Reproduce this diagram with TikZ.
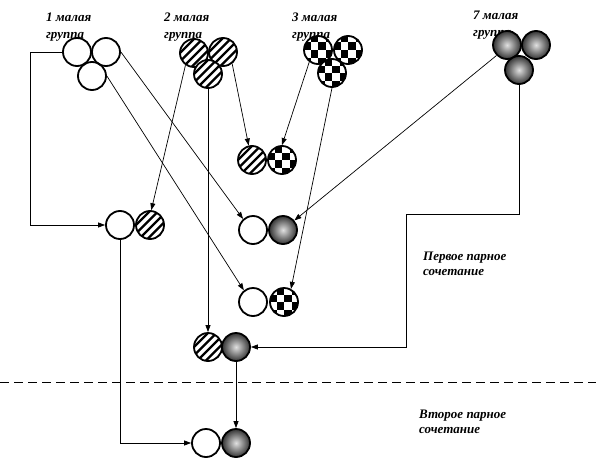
\documentclass[tikz,border=0pt]{standalone}
\usepackage{fontspec}
\setmainfont{Liberation Serif}
\usetikzlibrary{arrows.meta}
\tikzset{
  base/.style={circle, minimum size=28pt, inner sep=0pt, draw=black, line width=1.8pt},
  wcirc/.style={base},
  hcirc/.style={base, fill=white, path picture={
     \foreach \i in {-34,-25.5,...,34} \draw[black, line width=2.3pt] ([xshift=\i pt, yshift=-20pt]path picture bounding box.center) -- ++(40pt,40pt);}},
  ccirc/.style={base, fill=white, path picture={
     \foreach \i in {-2,...,1}{\foreach \j in {-2,...,1}{
       \pgfmathtruncatemacro\kk{mod(\i+\j+4,2)}
       \ifnum\kk=0 \fill[black] ([xshift={\i*7.5pt}, yshift={\j*7.5pt}]path picture bounding box.center) rectangle ++(7.5pt,7.5pt);\fi}}}},
  bcirc/.style={base, shading=radial, inner color=black!12, outer color=black!80},
  lbl/.style={inner sep=0pt, anchor=base west, font=\fontsize{13}{15}\selectfont\bfseries\itshape},
  conn/.style={line width=0.7pt},
  arr/.style={conn, -{Triangle[length=7pt,width=5pt]}}
}
\begin{document}
\begin{tikzpicture}[x=1pt,y=-1pt]
\useasboundingbox (0,0) rectangle (596,460);
% labels
\node[lbl] (t1a) at (46,22) {1 малая};
\node[lbl] (t1b) at (46,39) {группа};
\node[lbl] (t2a) at (164,22) {2 малая};
\node[lbl] (t2b) at (164,39) {группа};
\node[lbl] (t3a) at (292,22) {3 малая};
\node[lbl] (t3b) at (292,39) {группа};
\node[lbl] (t7a) at (473,20) {7 малая};
\node[lbl] (t7b) at (473,37) {группа};
\node[lbl] (p1a) at (423,260) {Первое парное};
\node[lbl] (p1b) at (423,275) {сочетание};
\node[lbl] (p2a) at (419,418) {Второе парное};
\node[lbl] (p2b) at (419,433) {сочетание};
% groups
\node[wcirc] (g1a) at (77,52) {};
\node[wcirc] (g1b) at (106,52) {};
\node[wcirc] (g1c) at (92,76) {};
\node[hcirc] (g2a) at (194,53) {};
\node[hcirc] (g2b) at (223,52) {};
\node[hcirc] (g2c) at (208,74) {};
\node[ccirc] (g3a) at (318,50) {};
\node[ccirc] (g3b) at (348,50) {};
\node[ccirc] (g3c) at (332,73) {};
\node[bcirc] (g7a) at (507,45) {};
\node[bcirc] (g7b) at (536,45) {};
\node[bcirc] (g7c) at (519,70) {};
% pairs
\node[hcirc] (pAh) at (252,160) {};
\node[ccirc] (pAc) at (282,160) {};
\node[wcirc] (pBw) at (253,230) {};
\node[bcirc] (pBb) at (283,230) {};
\node[wcirc] (pCw) at (120,225) {};
\node[hcirc] (pCh) at (150,225) {};
\node[wcirc] (pDw) at (253,302) {};
\node[ccirc] (pDc) at (284,302) {};
\node[hcirc] (pEh) at (208,347) {};
\node[bcirc] (pEb) at (236,347) {};
\node[wcirc] (pFw) at (206,443) {};
\node[bcirc] (pFb) at (236,443) {};
% helper coordinates
\coordinate (k1) at (30,0);
\coordinate (k2) at (406,214);
\coordinate (dl) at (0,382);
\coordinate (dr) at (596,382);
% connectors
\draw[arr] (g1a.west) -- (g1a.west -| k1) |- (pCw.west);
\draw[arr] (g1b.east) -- (pBw.132);
\draw[arr] (g1c.east) -- (pDw.128);
\draw[arr] (g2a.-125) -- (pCh.85);
\draw[arr] (g2c.south) -- (pEh.north);
\draw[arr] (g2b.-52) -- (pAh.103);
\draw[arr] (g3a.-126) -- (pAc.north);
\draw[arr] (g3c.south) -- (pDc.62);
\draw[arr] (g7a.-135) -- (pBb.40);
\draw[arr] (g7c.south) |- (k2) |- (pEb.east);
\draw[arr] (pCw.south) |- (pFw.west);
\draw[arr] (pEb.south) -- (pFb.north);
\draw[line width=0.8pt, dash pattern=on 9pt off 5pt] (dl) -- (dr);
\end{tikzpicture}
\end{document}
